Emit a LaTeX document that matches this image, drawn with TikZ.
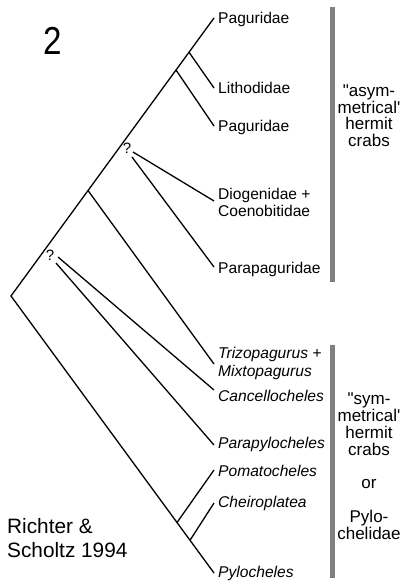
\documentclass[tikz,border=0pt]{standalone}
\usepackage{fontspec}
\setmainfont{Liberation Sans}
\begin{document}
\begin{tikzpicture}[x=1pt,y=-1pt,
        branch/.style={line width=1.3pt},
        leaf/.style={anchor=base west,inner sep=0pt,font=\fontsize{15.6}{17.5}\selectfont},
        leaftwo/.style={anchor=west,inner sep=0pt,align=left,font=\fontsize{15.6}{17.5}\selectfont},
        clade/.style={inner sep=0pt,align=center,font=\fontsize{17}{16.8}\selectfont},
        unsure/.style={inner sep=0pt,font=\fontsize{15}{15}\selectfont}]
    \useasboundingbox (0,0) rectangle (400,585);

    % grey bars
    \fill[gray] (330,7) rectangle (335,282);
    \fill[gray] (330,345) rectangle (335,578);

    % inner nodes
    \coordinate (root) at (11,296);
    \coordinate (n1) at (189,52.2);
    \coordinate (n2) at (176,70);
    \coordinate (qa1) at (133,152);
    \coordinate (qa2) at (132,157);
    \coordinate (n3) at (88,190.5);
    \coordinate (qb1) at (58,257);
    \coordinate (qb2) at (56,263);
    \coordinate (n4) at (177,522.5);
    \coordinate (n5) at (190,540.3);

    % tips
    \coordinate (tPagA) at (214,18);
    \coordinate (tLith) at (214,88);
    \coordinate (tPagB) at (214,126);
    \coordinate (tDio) at (214,201);
    \coordinate (tParapag) at (214,267);
    \coordinate (tTriz) at (214,364);
    \coordinate (tCanc) at (214,390);
    \coordinate (tParapyl) at (214,445);
    \coordinate (tPoma) at (214,470);
    \coordinate (tChei) at (214,503);
    \coordinate (tPylo) at (214,573);

    % branches
    \draw[branch] (tPylo) -- (root) -- (tPagA);
    \draw[branch] (n1) -- (tLith);
    \draw[branch] (n2) -- (tPagB);
    \draw[branch] (qa1) -- (tDio);
    \draw[branch] (qa2) -- (tParapag);
    \draw[branch] (n3) -- (tTriz);
    \draw[branch] (qb1) -- (tCanc);
    \draw[branch] (qb2) -- (tParapyl);
    \draw[branch] (n4) -- (tPoma);
    \draw[branch] (n5) -- (tChei);

    \node[unsure] (qa) at (127,148) {?};
    \node[unsure] (qb) at (50,255) {?};

    % taxa
    \node[leaf] (pagA) at (218,23.5) {Paguridae};
    \node[leaf] (lith) at (218,93.5) {Lithodidae};
    \node[leaf] (pagB) at (218,131.5) {Paguridae};
    \node[leaftwo] (dio) at (218,202.6) {Diogenidae +\\Coenobitidae};
    \node[leaf] (parapag) at (218,273.5) {Parapaguridae};
    \node[leaftwo] (triz) at (218,363.5) {\textit{Trizopagurus +}\\\textit{Mixtopagurus}};
    \node[leaf] (canc) at (218,401.5) {\textit{Cancellocheles}};
    \node[leaf] (parapyl) at (218,448.5) {\textit{Parapylocheles}};
    \node[leaf] (poma) at (218,476.5) {\textit{Pomatocheles}};
    \node[leaf] (chei) at (218,507.5) {\textit{Cheiroplatea}};
    \node[leaf] (pylo) at (218,577.5) {\textit{Pylocheles}};

    % groups
    \node[clade] (asym) at (369,115.8) {\textquotedbl asym-\\metrical\textquotesingle\\hermit\\crabs};
    \node[clade] (sym) at (369,466.3) {\textquotedbl sym-\\metrical\textquotesingle\\hermit\\crabs\\[16.8pt]or\\[16.8pt]Pylo-\\chelidae};

    \node[anchor=base,inner sep=0pt,font=\fontsize{39}{39}\selectfont] (fig) at (52.5,55) {\scalebox{0.85}[1]{2}};
    \node[anchor=west,inner sep=0pt,align=left,font=\fontsize{20.8}{24}\selectfont] (ref) at (7,537.9) {Richter \&\\Scholtz 1994};
\end{tikzpicture}
\end{document}
